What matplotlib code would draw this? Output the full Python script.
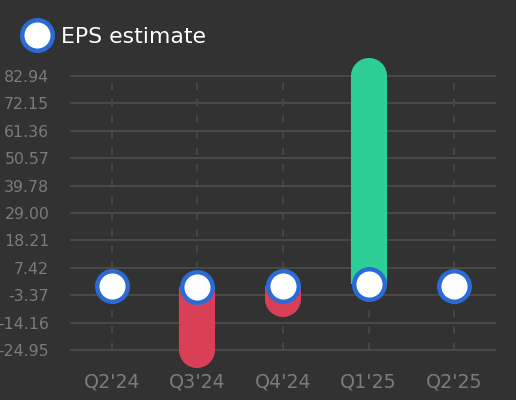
import numpy as np
import matplotlib
matplotlib.use('Agg')
import matplotlib.pyplot as plt
from matplotlib.lines import Line2D

# quarter labels and EPS values
quarters = ["Q2'24", "Q3'24", "Q4'24", "Q1'25", "Q2'25"]
eps_estimate = [0.4, -0.3, 0.4, 1.2, 0.4]
eps_actual = [np.nan, -24.95, -4.9, 82.94, np.nan]

BG = '#323232'
GRID = '#494949'
TICK = '#7b7b7b'
RED = '#d94058'
GREEN = '#2ecf97'
BLUE = '#2b6bd6'

fig = plt.figure(figsize=(5.16, 4.0), dpi=100, facecolor=BG)
ax = fig.add_axes([70 / 516, 1 - 364 / 400, 426 / 516, 302 / 400], facecolor=BG)

x = np.arange(len(quarters))
vals = [v for v in eps_actual if not np.isnan(v)]
lo, hi = min(vals), max(vals)
ticks = np.linspace(lo, hi, 11)

# horizontal grid at the ticks, dashed verticals at each quarter
for t in ticks:
    ax.axhline(t, color=GRID, lw=1.4, zorder=0)
ax.vlines(x, lo, hi, colors=GRID, lw=1.3, linestyles=(0, (4, 5)), zorder=0)

# surprise bars from estimate to actual, rounded only at the actual end
for xi, est, act in zip(x, eps_estimate, eps_actual):
    if np.isnan(act):
        continue
    color = GREEN if act >= est else RED
    mid = (est + act) / 2
    ax.plot([xi, xi], [est, mid], color=color, lw=26, solid_capstyle='butt',
            zorder=2, clip_on=False)
    ax.plot([xi, xi], [mid, act], color=color, lw=26, solid_capstyle='round',
            zorder=2, clip_on=False)

ax.plot(x, eps_estimate, 'o', ms=22, mfc='white', mec=BLUE, mew=3.2,
        zorder=3, clip_on=False)

ax.set_xlim(-0.49, 4.49)
ax.set_ylim(lo - 14 / 2.54, hi + 14 / 2.54)
ax.set_yticks(ticks)
ax.set_yticklabels([f'{t:.2f}' for t in ticks])
ax.set_xticks(x)
ax.set_xticklabels(quarters)
ax.tick_params(axis='y', length=0, pad=15, labelsize=11.3, labelcolor=TICK)
ax.tick_params(axis='x', length=0, pad=6, labelsize=13.7, labelcolor=TICK)
for s in ax.spines.values():
    s.set_visible(False)

handle = Line2D([], [], ls='none', marker='o', ms=22, mfc='white', mec=BLUE, mew=3.2)
fig.legend([handle], ['EPS estimate'], loc='center left', bbox_to_anchor=(19 / 516, 1 - 37 / 400),
           frameon=False, fontsize=15.8, labelcolor='white', handletextpad=0.3,
           borderpad=0, borderaxespad=0, handlelength=1.6)

fig.savefig('out.png', dpi=100, facecolor=BG)
